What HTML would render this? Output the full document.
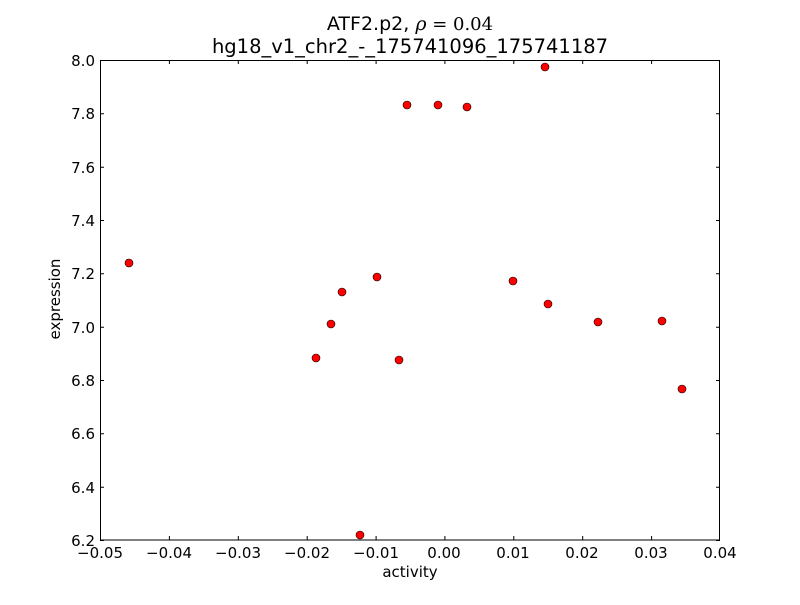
<!DOCTYPE html>
<html><head><meta charset="utf-8"><style>html,body{margin:0;padding:0;background:#fff}</style></head>
<body>
<svg width="800" height="600" xmlns="http://www.w3.org/2000/svg" font-family="DejaVu Sans, Liberation Sans, sans-serif">
<rect width="800" height="600" fill="#fff"/>
<g stroke="#000" stroke-width="1">
<path d="M100.5 540v-4M100.5 60v4M169.4 540v-4M169.4 60v4M238.3 540v-4M238.3 60v4M307.2 540v-4M307.2 60v4M376.1 540v-4M376.1 60v4M444.9 540v-4M444.9 60v4M513.8 540v-4M513.8 60v4M582.7 540v-4M582.7 60v4M651.6 540v-4M651.6 60v4M719.5 540v-4M719.5 60v4"/>
<path d="M100 540.5h4M720 540.5h-4M100 487.2h4M720 487.2h-4M100 433.8h4M720 433.8h-4M100 380.5h4M720 380.5h-4M100 327.2h4M720 327.2h-4M100 273.8h4M720 273.8h-4M100 220.5h4M720 220.5h-4M100 167.2h4M720 167.2h-4M100 113.8h4M720 113.8h-4M100 60.5h4M720 60.5h-4"/>
</g>
<rect x="100.5" y="60.5" width="619" height="479.5" fill="none" stroke="#000" stroke-width="1"/>
<g fill="#f00" stroke="#000" stroke-width="0.6">
<circle cx="129" cy="263" r="4"/><circle cx="316" cy="358" r="4"/><circle cx="331" cy="324" r="4"/>
<circle cx="342" cy="292" r="4"/><circle cx="360" cy="535" r="4"/><circle cx="377" cy="277" r="4"/>
<circle cx="399" cy="360" r="4"/><circle cx="407" cy="105" r="4"/><circle cx="438" cy="105" r="4"/>
<circle cx="467" cy="107" r="4"/><circle cx="513" cy="281" r="4"/><circle cx="545" cy="67" r="4"/>
<circle cx="548" cy="304" r="4"/><circle cx="598" cy="322" r="4"/><circle cx="662" cy="321" r="4"/>
<circle cx="682" cy="389" r="4"/>
</g>
<g font-size="15" fill="#000" text-anchor="middle">
<text x="100" y="558">−0.05</text><text x="169" y="558">−0.04</text><text x="238" y="558">−0.03</text>
<text x="307" y="558">−0.02</text><text x="376" y="558">−0.01</text><text x="444" y="558">0.00</text>
<text x="513" y="558">0.01</text><text x="582" y="558">0.02</text><text x="651" y="558">0.03</text>
<text x="720" y="558">0.04</text>
<text x="410" y="577">activity</text>
</g>
<g font-size="15" fill="#000" text-anchor="end">
<text x="95" y="546">6.2</text><text x="95" y="493">6.4</text><text x="95" y="439">6.6</text>
<text x="95" y="386">6.8</text><text x="95" y="333">7.0</text><text x="95" y="279">7.2</text>
<text x="95" y="226">7.4</text><text x="95" y="173">7.6</text><text x="95" y="119">7.8</text>
<text x="95" y="66">8.0</text>
</g>
<text x="60" y="299" font-size="15" text-anchor="middle" transform="rotate(-90 60 299)">expression</text>
<text x="410" y="30" font-size="19" text-anchor="middle">ATF2.p2, <tspan font-family="DejaVu Serif, serif" font-style="italic">ρ</tspan><tspan font-family="DejaVu Serif, serif" font-size="18"> = 0.04</tspan></text>
<text x="410" y="53" font-size="19.5" text-anchor="middle">hg18_v1_chr2_-_175741096_175741187</text>
</svg>
</body></html>
